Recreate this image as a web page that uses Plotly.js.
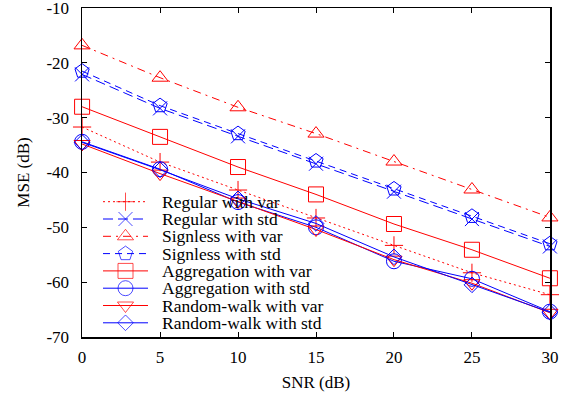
<!DOCTYPE html>
<html>
<head>
<meta charset="utf-8">
<script src="https://cdn.plot.ly/plotly-3.0.1.min.js"></script>
<style>html,body{margin:0;padding:0;background:#fff;}#chart{width:574px;height:397px;}</style>
</head>
<body>
<div id="chart"></div>
<script>
// ---- data ----
const snr = [0, 5, 10, 15, 20, 25, 30];
const seriesNames = [
  'Regular with var', 'Regular with std', 'Signless with var', 'Signless with std',
  'Aggregation with var', 'Aggregation with std', 'Random-walk with var', 'Random-walk with std'
];
const regularVar     = [-31.7, -38.1, -43.2, -48.3, -53.3, -58.3, -62.3];
const regularStd     = [-22.1, -28.3, -33.4, -38.4, -43.5, -48.5, -53.5];
const signlessVar    = [-16.8, -22.7, -28.1, -32.9, -38.0, -43.1, -48.2];
const signlessStd    = [-21.5, -27.8, -32.9, -37.9, -43.0, -48.0, -53.0];
const aggregationVar = [-28.0, -33.5, -39.0, -44.0, -49.4, -54.1, -59.3];
const aggregationStd = [-34.4, -39.4, -45.4, -50.0, -56.2, -59.4, -65.4];
const randomWalkVar  = [-34.8, -40.2, -45.3, -50.4, -55.9, -60.2, -65.6];
const randomWalkStd  = [-34.5, -39.5, -44.8, -49.3, -55.4, -60.5, -65.5];
const xTickVals = [0, 5, 10, 15, 20, 25, 30];
const xTickLabels = ['0', '5', '10', '15', '20', '25', '30'];
const yTickVals = [-70, -60, -50, -40, -30, -20, -10];
const yTickLabels = ['-70', '-60', '-50', '-40', '-30', '-20', '-10'];

// ---- styles ----
const RED = '#ff0000', BLUE = '#0000ff';
const styles = [
  {color: RED,  dash: '2px,3px',          symbol: 'cross-thin-open',    size: 13},
  {color: BLUE, dash: '10px,5px',         symbol: 'x-thin-open',        size: 14},
  {color: RED,  dash: '8px,5px,2px,5px',  symbol: 'triangle-up-open',   size: 14},
  {color: BLUE, dash: '7px,5px',          symbol: 'pentagon-open',      size: 15},
  {color: RED,  dash: 'solid',            symbol: 'square-open',        size: 15},
  {color: BLUE, dash: 'solid',            symbol: 'circle-open',        size: 15},
  {color: RED,  dash: 'solid',            symbol: 'triangle-down-open', size: 14},
  {color: BLUE, dash: 'solid',            symbol: 'diamond-open',       size: 12}
];
const allY = [regularVar, regularStd, signlessVar, signlessStd,
              aggregationVar, aggregationStd, randomWalkVar, randomWalkStd];

const FONT = 'Liberation Serif, Times New Roman, serif';
const traces = allY.map((ys, i) => ({
  type: 'scatter', mode: 'lines+markers', x: snr, y: ys, name: seriesNames[i],
  showlegend: false,
  line: {color: styles[i].color, width: 1, dash: styles[i].dash},
  marker: {symbol: styles[i].symbol, size: styles[i].size,
           color: styles[i].color, line: {color: styles[i].color, width: 1}},
  cliponaxis: false
}));

// ---- manual legend (gnuplot style) on an overlay axis ----
const plotL = 82, plotR = 550, plotT = 8, plotB = 337;
const W = plotR - plotL, H = plotB - plotT;
const legX0 = (103 - plotL) / W, legX1 = (148 - plotL) / W, legXm = (125.5 - plotL) / W;
const legTextX = (160 - plotL) / W;
const row0 = 201.7, rowStep = 17.3;
const annotations = [];
seriesNames.forEach((nm, i) => {
  const yf = (plotB - (row0 + i * rowStep)) / H;
  traces.push({
    type: 'scatter', mode: 'lines+markers', xaxis: 'x2', yaxis: 'y2',
    x: [legX0, legXm, legX1], y: [yf, yf, yf], showlegend: false, hoverinfo: 'skip',
    line: {color: styles[i].color, width: 1, dash: styles[i].dash},
    marker: {symbol: styles[i].symbol, size: [0, styles[i].size, 0],
             color: styles[i].color, line: {color: styles[i].color, width: 1}},
    cliponaxis: false
  });
  annotations.push({
    xref: 'paper', yref: 'paper', x: legTextX, y: yf, xanchor: 'left', yanchor: 'middle',
    text: nm, showarrow: false, font: {family: FONT, size: 17.5, color: '#000'}
  });
});

const layout = {
  width: 574, height: 397,
  margin: {l: plotL, r: 574 - plotR, t: plotT, b: 397 - plotB, pad: 0},
  paper_bgcolor: '#fff', plot_bgcolor: '#fff',
  font: {family: FONT, size: 17, color: '#000'},
  showlegend: false,
  xaxis: {
    range: [-0.005, 30.005], tickvals: xTickVals, ticktext: xTickLabels,
    tickfont: {family: FONT, size: 17, color: '#000'}, ticklabeloverflow: 'allow',
    ticks: 'inside', ticklen: 5, tickwidth: 1, tickcolor: '#000',
    showline: true, linecolor: '#000', linewidth: 1.5, mirror: 'ticks',
    showgrid: false, zeroline: false, ticklabelstandoff: 4,
    title: {text: 'SNR (dB)', font: {family: FONT, size: 17}, standoff: 10}
  },
  yaxis: {
    range: [-70.02, -9.98], tickvals: yTickVals, ticktext: yTickLabels,
    tickfont: {family: FONT, size: 17, color: '#000'}, ticklabeloverflow: 'allow',
    ticks: 'inside', ticklen: 5, tickwidth: 1, tickcolor: '#000',
    showline: true, linecolor: '#000', linewidth: 1.5, mirror: 'ticks',
    showgrid: false, zeroline: false, ticklabelstandoff: 8,
    title: {text: 'MSE (dB)', font: {family: FONT, size: 17}, standoff: 12}
  },
  xaxis2: {overlaying: 'x', anchor: 'y2', range: [0, 1], visible: false, fixedrange: true},
  yaxis2: {overlaying: 'y', anchor: 'x2', range: [0, 1], visible: false, fixedrange: true},
  annotations: annotations
};

Plotly.newPlot('chart', traces, layout, {displayModeBar: false, staticPlot: true});
</script>
</body>
</html>
